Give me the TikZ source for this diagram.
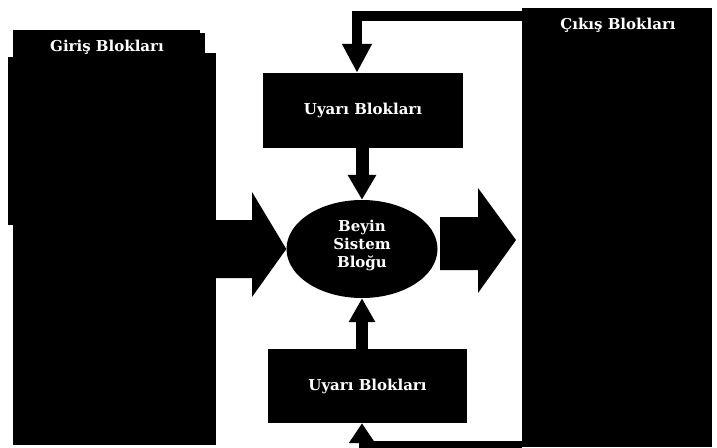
\documentclass[tikz,border=0pt]{standalone}
\usepackage{fontspec}
\setmainfont{DejaVu Serif}
\usetikzlibrary{shapes.geometric,arrows.meta}
\begin{document}
\begin{tikzpicture}[x=1pt,y=-1pt,
  blk/.style={fill=black, draw=none, inner sep=0pt, text=white,
    font=\bfseries\fontsize{15}{18}\selectfont},
  lbl/.style={text=white, font=\bfseries\fontsize{15}{18}\selectfont, inner sep=0pt},
  conn/.style={draw=black, line cap=butt, line join=miter}]
\useasboundingbox (0,0) rectangle (717,447);
% stacked sheets of the input block
\fill (13,30) rectangle (200,60);
\fill (13,33) rectangle (205,60);
\fill (8,57) rectangle (210,225);
\node[blk, minimum width=203pt, minimum height=392pt] (inblk) at (114.5,249) {};
\node[blk, minimum width=190pt, minimum height=439pt] (outblk) at (617,227.5) {};
\node[blk, minimum width=200pt, minimum height=75pt] (uyari1) at (363,110.5) {Uyarı Blokları};
\node[blk, minimum width=199pt, minimum height=74pt] (uyari2) at (367.5,386) {Uyarı Blokları};
\node[blk, ellipse, minimum width=151pt, minimum height=98pt] (brain) at (362,249) {};
\node[lbl, align=center] (brainlbl) at (362,245) {Beyin\\Sistem\\Bloğu};
\node[lbl] (inlbl) at (107,47) {Giriş Blokları};
\node[lbl] (outlbl) at (618,25) {Çıkış Blokları};
% feedback connectors
\coordinate (fbT) at (357,16);
\draw[conn, line width=10pt, -{Triangle[width=28pt,length=29pt]}]
  (outblk.north west |- fbT) -- (fbT) -- (fbT |- uyari1.north);
\coordinate (fbB) at (362,444);
\draw[conn, line width=7pt, -{Triangle[width=25pt,length=20pt]}]
  (outblk.west |- fbB) -- (fbB) -- (fbB |- uyari2.south);
% stimulus arrows into the brain block
\draw[conn, line width=13pt, -{Triangle[width=27pt,length=25pt]}]
  (brain.north |- uyari1.south) -- (brain.north);
\draw[conn, line width=12pt, -{Triangle[width=25pt,length=24pt]}]
  (brain.south |- uyari2.north) -- (brain.south);
% fat arrows
\fill (inblk.east |- 0,220) -- (252,220) -- (252,192) -- (brain.west)
  -- (252,297) -- (252,278) -- (inblk.east |- 0,278) -- cycle;
\coordinate (rtip) at (516,240);
\fill (440,217) -- (478,217) -- (478,188) -- (rtip)
  -- (478,293) -- (478,270) -- (440,270) -- cycle;
\end{tikzpicture}
\end{document}
